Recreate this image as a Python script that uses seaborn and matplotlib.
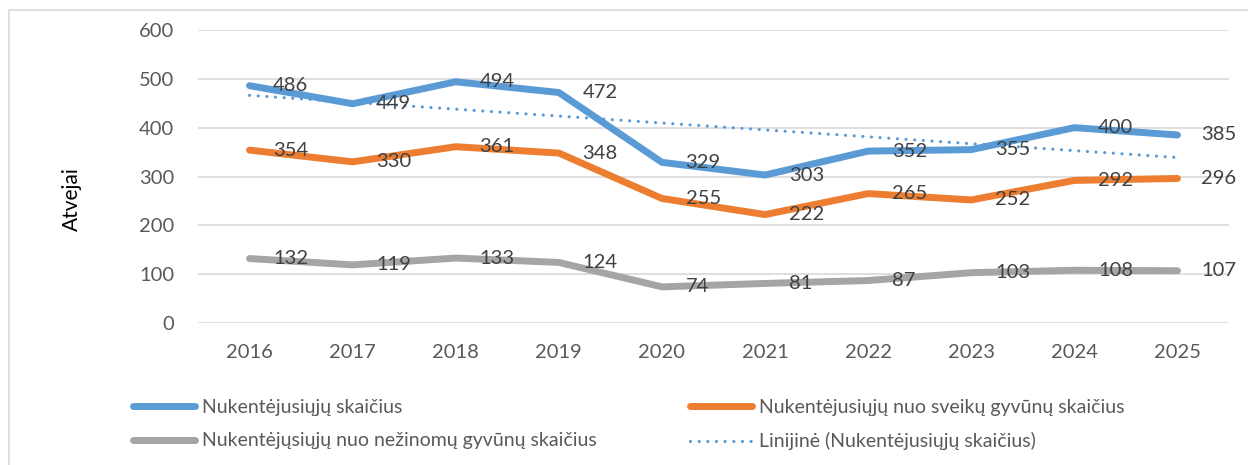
import numpy as np
import pandas as pd
import matplotlib.pyplot as plt
from matplotlib.lines import Line2D
from matplotlib.patches import Rectangle
import seaborn as sns

years = [2016, 2017, 2018, 2019, 2020, 2021, 2022, 2023, 2024, 2025]
total = [486, 449, 494, 472, 329, 303, 352, 355, 400, 385]
healthy = [354, 330, 361, 348, 255, 222, 265, 252, 292, 296]
unknown = [132, 119, 133, 124, 74, 81, 87, 103, 108, 107]

names = [
    "Nukentėjusiųjų skaičius",
    "Nukentėjusiųjų nuo sveikų gyvūnų skaičius",
    "Nukentėjųsiųjų nuo nežinomų gyvūnų skaičius",
]
trend_name = "Linijinė (Nukentėjusiųjų skaičius)"
colors = ["#5B9BD5", "#ED7D31", "#A5A5A5"]

df = pd.DataFrame({
    "year": years * 3,
    "value": total + healthy + unknown,
    "series": [names[0]] * 10 + [names[1]] * 10 + [names[2]] * 10,
})

sns.set_style("white")
plt.rcParams["font.family"] = ["Lato", "DejaVu Sans"]
fs = 14.5

fig = plt.figure(figsize=(12.48, 4.65), dpi=100)
ax = fig.add_axes([198 / 1248, 1 - 323 / 465, 1031 / 1248, 293 / 465])

# linear trend of the total series (as the Excel trendline)
coef = np.polyfit(years, total, 1)
trend = np.polyval(coef, years)
ax.plot(years, trend, color=colors[0], linewidth=2.3, linestyle=(0, (0.01, 2.7)),
        dash_capstyle="round", zorder=3)

sns.lineplot(data=df, x="year", y="value", hue="series", palette=colors,
             linewidth=5, legend=False, ax=ax, zorder=2,
             solid_capstyle="round", solid_joinstyle="round")

for vals in [total, healthy, unknown]:
    for x, v in zip(years, vals):
        ax.annotate(str(v), (x, v), xytext=(17, 0), textcoords="offset points",
                    ha="left", va="center", fontsize=fs, color="#404040", zorder=4)

ax.set_xlim(2015.5, 2025.5)
ax.set_ylim(0, 600)
ax.set_yticks(range(0, 601, 100))
ax.set_xticks(years)
ax.set_xticklabels([str(y) for y in years])
ax.grid(axis="y", color="#D9D9D9", linewidth=1.2)
ax.set_axisbelow(True)
ax.tick_params(axis="both", length=0, labelsize=fs, labelcolor="#595959")
ax.tick_params(axis="x", pad=15)
ax.tick_params(axis="y", pad=17)
sns.despine(ax=ax, left=True, bottom=True)
ax.set_xlabel("")
ax.set_ylabel("")
fig.text(72 / 1248, 1 - 199 / 465, "Atvejai", rotation=90, ha="center", va="center",
         fontsize=fs + 0.5, color="#000000")

# frame around the chart area
fig.patches.append(Rectangle((9 / 1248, -0.1), 1.2, 1 - 10 / 465 + 0.1,
                             transform=fig.transFigure, fill=False,
                             edgecolor="#D9D9D9", linewidth=1.2))

h = [Line2D([], [], color=c, linewidth=5, solid_capstyle="round") for c in colors]
h_trend = Line2D([], [], color=colors[0], linewidth=2.3, linestyle=(0, (0.01, 2.7)),
                 dash_capstyle="round")
leg_kw = dict(loc="upper left", frameon=False, fontsize=14, labelcolor="#595959",
              handlelength=3.2, handletextpad=0.36, labelspacing=0.84,
              borderpad=0, borderaxespad=0)
fig.legend([h[0], h[2]], [names[0], names[2]], bbox_to_anchor=(133 / 1248, 1 - 399 / 465), **leg_kw)
fig.legend([h[1], h_trend], [names[1], trend_name], bbox_to_anchor=(690 / 1248, 1 - 399 / 465), **leg_kw)

fig.savefig("out.png", dpi=100)
